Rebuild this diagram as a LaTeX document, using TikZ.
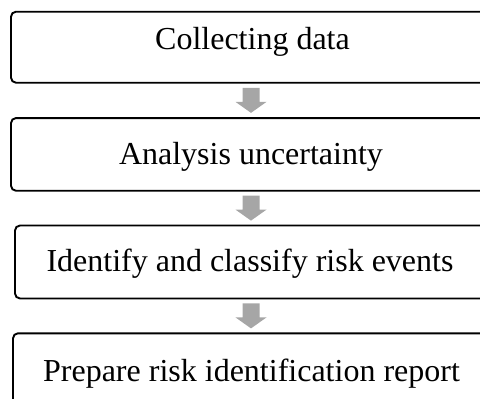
\documentclass[tikz,border=0pt]{standalone}
\usepackage{fontspec}
\setmainfont{Liberation Serif}
\definecolor{arrgray}{HTML}{A6A6A6}
\begin{document}
\begin{tikzpicture}[x=1pt,y=-1pt,
  box/.style={draw, line width=1.9pt, rounded corners=5pt, inner sep=0pt, minimum width=480pt},
  lbl/.style={anchor=base, inner sep=0pt, font=\fontsize{32}{38}\selectfont},
  arr/.style={fill=arrgray}]
\useasboundingbox (0,0) rectangle (480,399);
\clip (0,0) rectangle (480,399);
\node[box, minimum height=71pt] (b1) at (251,47.2) {};
\node[box, minimum height=72.7pt] (b2) at (251,154.4) {};
\node[box, minimum width=472pt, minimum height=73pt] (b3) at (251,262) {};
\node[box, minimum width=476pt, minimum height=100pt] (b4) at (251,383.3) {};
\node[lbl] (t1) at (252.5,49.3) {Collecting data};
\node[lbl] (t2) at (251,164.3) {Analysis uncertainty};
\node[lbl] (t3) at (250,271.7) {Identify and classify risk events};
\node[lbl] (t4) at (251.5,381) {Prepare risk identification report};
\path (b1.south) -- (b2.north) coordinate[pos=0.5] (m1);
\path (b2.south) -- (b3.north) coordinate[pos=0.5] (m2);
\path (b3.south) -- (b4.north) coordinate[pos=0.5] (m3);
\foreach \m in {m1,m2,m3}{
  \fill[arr, shift={(\m)}] (-8.5,-12.5) -- (8.5,-12.5) -- (8.5,1.5) -- (15.5,1.5)
    -- (0,12.5) -- (-15.5,1.5) -- (-8.5,1.5) -- cycle;
}
\end{tikzpicture}
\end{document}
